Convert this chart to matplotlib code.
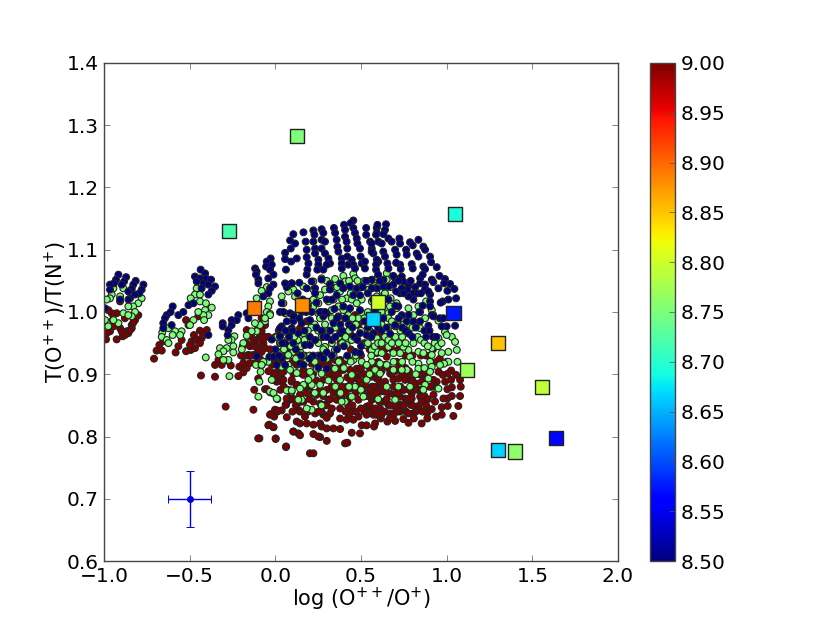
import numpy as np
import matplotlib
matplotlib.use('Agg')
import matplotlib.pyplot as plt

# model grid, three metallicities as (log O++/O+, T ratio)
grid_z = {'blue': 8.5, 'green': 8.75, 'red': 9.0}

blue_pts = [
    (-.916,1.060),(-.93,1.052),(-.942,1.046),(-.965,1.044),(-.871,1.056),(-.883,1.049),(-.897,1.044),(-.815,1.050),
    (-.829,1.044),(-.838,1.037),(-.858,1.033),(-.77,1.044),(-.78,1.036),(-.794,1.03),(-.819,1.028),(-.848,1.022),
    (-.858,1.02),(-.965,1.036),(-.994,1.006),(-.906,1.02),
    (-.436,1.068),(-.41,1.062),(-.469,1.057),(-.44,1.054),(-.404,1.054),(-.375,1.052),(-.459,1.049),(-.42,1.046),
    (-.352,1.041),(-.391,1.044),(-.371,1.034),(-.391,1.028),(-.43,1.038),(-.478,1.014),(-.507,1.011),(-.537,1.0),
    (-.566,.995),(-.599,1.009),(-.611,1.0),(-.634,.995),(-.644,.99),(-.605,.979),(-.654,.982),(-.654,.974),(-.391,.963),
    (-.027,1.086),(-.05,1.081),(-.021,1.076),(-.054,1.073),(-.031,1.068),(-.011,1.06),(-.041,1.054),(-.118,1.07),
    (-.109,1.065),(-.113,1.06),(-.099,1.052),(-.099,1.046),(-.011,1.044),(-.031,1.038),(-.041,1.03),(-.07,1.025),
    (-.216,.995),(-.225,.987),(-.255,.987),(-.307,.982),(-.307,.977),(-.255,.979),(-.274,.971),(-.278,.963),
    (-.167,.998),(-.157,.99),(-.021,.956),(-.109,.929),
    (.105,1.125),(.164,1.128),(.086,1.115),(.115,1.11),(.177,1.113),(.09,1.102),(.057,1.095),(.057,1.085),(.092,1.081),
    (.125,1.086),(.062,1.068),(.183,1.1),(.183,1.088),(.193,1.078),(.187,1.068),(.183,1.06),(.222,1.131),(.228,1.124),
    (.222,1.113),(.232,1.102),(.232,1.094),(.251,1.084),(.251,1.076),(.245,1.068),(.27,1.133),(.28,1.127),(.27,1.116),
    (.29,1.113),(.27,1.102),(.29,1.094),(.31,1.086),(.319,1.078),(.3,1.076),(.28,1.068),(.342,1.135),(.349,1.127),
    (.358,1.116),(.362,1.105),(.368,1.097),(.388,1.086),(.388,1.078),(.388,1.07),(.401,1.14),(.407,1.132),(.407,1.121),
    (.416,1.113),(.42,1.102),(.42,1.089),(.446,1.084),(.455,1.076),(.426,1.076),(.465,1.07),(.455,1.147),(.44,1.143),
    (.455,1.135),(.465,1.127),(.475,1.118),(.479,1.11),(.494,1.102),(.498,1.089),(.504,1.078),(.523,1.07),(.53,1.135),
    (.53,1.124),(.553,1.113),(.563,1.102),(.572,1.094),(.592,1.135),(.592,1.127),(.601,1.113),(.601,1.081),(.523,1.081),
    (.596,1.14),(.646,1.141),(.64,1.132),(.588,1.124),(.631,1.125),(.66,1.118),(.679,1.113),(.724,1.118),(.728,1.11),
    (.621,1.11),(.786,1.112),(.835,1.116),(.802,1.107),(.864,1.105),(.874,1.1),(.763,1.1),(.767,1.092),(.63,1.097),
    (.699,1.1),(.708,1.092),(.64,1.089),(.825,1.094),(.835,1.089),(.903,1.089),(.909,1.08),(.942,1.072),(.796,1.077),
    (.802,1.07),(.864,1.073),(.874,1.069),(.728,1.076),(.732,1.069),(.654,1.078),(.705,1.079),(.592,1.084),(.588,1.076),
    (.588,1.068),(.66,1.07),(.562,1.11),(.562,1.097),
    (.958,1.058),(.99,1.053),(1.02,1.045),(1.045,1.037),(1.055,1.022),(1.01,1.02),(1.004,1.034),(.977,1.017),(.965,1.015),
    (.985,1.046),(.952,1.038),(.913,1.052),(.922,1.048),(.845,1.054),(.845,1.046),(.874,1.044),(.874,1.037),(.903,1.028),
    (.903,1.017),(.903,1.009),(.893,1.033),(.816,1.04),(.806,1.03),(.806,1.02),(.777,1.042),(.771,1.036),(.777,1.025),
    (.738,1.057),(.747,1.049),(.738,1.038),(.728,1.03),(.699,1.054),(.689,1.058),(.689,1.044),(.705,1.033),(.631,1.052),
    (.563,1.052),(.592,1.038),(.563,1.038),(.66,1.041),(.631,1.041),(.913,.995),(.845,.985),(.806,.985),(.777,.995),
    (.767,.985),(.922,.993),(1.049,.978),(1.0,.977),(.971,.977),(.893,.978),(.738,.995),(.718,1.009),(.699,.979),
    (.095,1.046),(.14,1.047),(.212,1.049),(.27,1.052),(.066,1.04),(.183,1.038),(.232,1.038),(.232,1.03),(.319,1.044),
    (.319,1.036),(.378,1.046),(.358,1.027),(.397,1.038),(.436,1.041),(.475,1.038),(.494,1.027),(.455,1.027),(.027,1.0),
    (.037,1.014),(.086,.998),(.105,.995),(.212,1.0),(.28,.993),(.3,.998),(.397,1.009),(.436,1.006),(.494,1.003),(.368,.993),
    (.037,.977),(.105,.985),(.154,.982),(.202,.987),(.339,.982),
    (-.021,.956),(-.035,.928),(-.011,.928),(.008,.915),(.027,.961),(.057,.95),(.057,.915),(.105,.95),(.134,.966),(.144,.917),
    (.173,.947),(.202,.96),(.232,.955),(.202,.947),(.28,.96),(.3,.909),(.251,.911),(.329,.955),(.378,.966),(.465,.936),
    (.494,.934),(.494,.966),(.533,.963),(.572,.966),(.037,.926),(.164,.915),
    (.027,.974),(.067,.985),(.105,.993),(.096,.974),(.027,.961),(.047,1.0),(.057,1.046),(.096,1.046),
    (.13,1.03),(.16,1.02),(.19,1.01),(.155,1.0),(.18,1.0),(.24,1.015),(.26,1.0),(.29,1.0),(.3,1.02),(.33,1.02),(.345,1.005),
    (.36,.99),(.38,.98),(.39,.97),(.41,.99),(.43,.98),(.45,.975),(.46,.96),(.48,.955),(.5,.945),(.52,.985),(.54,.975),(.56,.96),
    (.58,.985),(.6,.975),(.62,.97),(.63,.99),(.65,.975),(.67,.965),(.68,1.0),(.7,1.01),(.72,.99),(.74,.975),(.76,.97),(.78,.965),
    (.8,.96),(.82,.975),(.84,1.0),(.86,1.01),(.87,.97),(.88,.96),(.9,.97),(.92,.96),(.94,.96),(.96,.99),(.98,.99),(.62,1.02),
    (.64,1.02),(.66,1.02),(.72,1.05),(.75,1.03),(.79,1.05),(.83,1.03),(.85,1.03),(.86,1.06),(.6,1.06),(.61,1.05),(.53,1.05),
    (.51,1.04),(.54,1.03),(.57,1.02),(.58,1.0),(.24,.975),(.27,.97),(.3,.96),(.32,.97),(.35,.96),(.22,.93),(.2,.925),(.26,.93),
    (.28,.925),(.3,.935),(.33,.93),(.36,.94),(.4,.945),(.42,.93),(.12,.94),(.15,.93),(.08,.96),(.1,.97),(.14,.99),(.17,.97),
    (.06,.97),(.04,.95),(0.0,.94),(.02,.93),
]

green_pts = [
    (-.955,1.028),(-.965,1.022),(-.984,1.02),(-.887,1.038),(-.945,1.038),(-.906,1.025),(-.78,1.022),(-.80,1.014),(-.83,1.009),
    (-.858,1.009),(-.887,.998),(-.916,.982),(-.975,.977),(-.945,.987),(-.994,.987),(-.819,1.0),(-.838,.993),(-.858,.995),
    (-.459,1.038),(-.469,1.028),(-.494,1.022),(-.44,1.028),(-.44,1.017),(-.405,1.014),(-.371,1.007),(-.41,1.003),(-.391,.995),
    (-.42,.995),(-.416,.987),(-.45,1.0),(-.478,.987),(-.498,.979),(-.547,.969),(-.585,.969),(-.624,.974),(-.66,.967),(-.663,.96),
    (-.634,.955),(-.556,.963),(-.599,.963),(-.624,.95),(-.406,.927),
    (-.05,1.04),(-.08,1.034),(-.109,1.022),(-.031,1.017),(-.041,1.009),(-.05,1.0),(-.031,.997),(-.06,.985),(-.09,.979),(-.119,.982),
    (-.109,.969),(-.138,.969),(-.167,.962),(-.187,.95),(-.196,.94),(-.239,.961),(-.255,.955),(-.274,.955),(-.245,.945),(-.284,.942),
    (-.323,.942),(-.303,.937),(-.245,.935),(-.332,.932),(-.268,.897),(-.274,.923),(-.303,.923),(-.113,.915),(-.08,.915),(-.086,.904),
    (-.093,.888),(-.099,.864),(.008,.937),(-.041,.92),
    (.349,1.053),(.397,1.058),(.407,1.049),(.455,1.061),(.465,1.054),(.27,1.054),(.222,1.049),(.164,1.041),(.105,1.036),(.076,1.033),
    (.037,1.025),(.047,1.014),(.115,1.025),(.057,.998),(.125,.995),(.222,1.036),(.29,1.036),(.261,1.027),(.222,1.02),(.31,1.017),
    (.349,1.038),(.378,1.033),(.416,1.022),(.446,1.02),(.465,1.036),(.504,1.02),(.543,1.036),(.592,1.053),(.601,1.041),(.592,1.025),
    (.563,1.017),(.222,1.009),(.251,1.014),(.329,1.003),(.251,.998),(.27,1.0),(.368,1.009),(.397,1.003),(.475,1.014),(.504,.998),
    (.261,.99),(.329,.99),(.407,.99),(.426,.995),(.485,.99),(-.031,.995),(-.06,.99),
    (.65,1.062),(.592,1.052),(.65,1.052),(.627,1.033),(.673,1.022),(.708,1.014),(.708,1.006),(.777,1.006),(.835,1.009),(.845,1.0),
    (.88,1.017),(.913,1.003),(.922,.995),(.874,.99),(.952,.986),(.806,.995),(.669,1.009),(.66,.998),(.66,.99),(.747,.987),(.699,.977),
    (.816,.982),(.845,.974),
    (-.07,.92),(-.08,.915),(-.011,.869),(-.031,.871),(.012,.86),(.076,.875),(.095,.872),(.154,.859),(.212,.843),(.047,.968),(.076,.931),
    (.076,.915),(.105,.936),(.144,.936),(.164,.947),(.164,.966),(.202,.952),(.251,.95),(.29,.944),(.348,.939),(.416,.947),(.446,.955),
    (.524,.947),(.553,.96),(.212,.896),(.212,.883),(.261,.883),(.193,.891),(.164,.883),(.144,.877),(.202,.904),(.241,.909),(.348,.909),
    (.378,.891),(.416,.926),(.455,.923),(.504,.92),(.563,.92),(.533,.915),(.582,.907),(.592,.936),(.465,.88),(.407,.856),(.387,.856),
    (.514,.864),(.446,.864),(.183,.845),(.446,.899),(.27,.901),(.533,.891),
    (1.03,.96),(1.049,.952),(.99,.968),(1.0,.963),(.952,.958),(.913,.942),(.913,.931),(.903,.92),(.913,.912),(1.059,.939),(1.063,.92),
    (1.01,.936),(.971,.934),(1.01,.92),(.985,.917),(.961,.915),(.835,.936),(.864,.934),(.835,.917),(.835,.909),(.903,.904),(.893,.893),
    (.806,.95),(.777,.939),(.786,.928),(.747,.944),(.728,.934),(.689,.934),(.66,.944),(.611,.917),(.621,.934),(.592,.958),(.563,.939),
    (.767,.907),(.738,.907),(.689,.907),(.65,.915),(.611,.901),(.718,.88),(.699,.859),(.874,.883),(.864,.875),(.952,.877),(.786,.88),
    (.008,.929),(.037,.912),(.076,.931),(.125,.939),(-.031,.872),(-.011,.87),(.008,.861),(.067,.874),(.096,.874),(.134,.859),(-.021,.891),
    (.086,.907),(.125,.902),
    (.3,1.05),(.32,1.045),(.34,1.02),(.36,1.04),(.39,1.02),(.43,1.05),(.44,1.03),(.48,1.05),(.5,1.04),(.52,1.05),(.55,1.05),(.57,1.04),
    (.6,1.02),(.62,1.0),(.64,1.03),(.67,1.04),(.58,1.01),(.54,1.0),(.52,.99),(.47,.98),(.45,.99),(.43,.97),(.41,.96),(.39,.95),(.37,.96),
    (.35,.975),(.33,.95),(.31,.97),(.29,.98),(.27,.96),(.25,.97),(.23,.98),(.21,.975),(.19,.97),(.17,.955),(.15,.945),(.13,.955),(.11,.96),
    (.09,.945),(.07,.955),(.05,.94),(.03,.95),(.01,.96),(.54,.95),(.56,.93),(.58,.945),(.6,.95),(.62,.95),(.64,.96),(.66,.955),(.68,.95),
    (.7,.96),(.72,.95),(.74,.96),(.76,.95),(.78,.98),(.8,.975),(.83,.96),(.85,.955),(.87,.95),(.89,.945),(.93,.95),(.95,.945),(.97,.95),
    (.71,.985),(.73,.97),(.75,.98),(.68,.985),(.66,.975),(.62,.98),(.6,.99),(.55,.97),(.5,.97),(.47,.93),(.44,.92),(.4,.91),(.37,.92),
    (.34,.93),(.3,.925),(.28,.94),(.25,.93),(.23,.92),(.2,.93),(.18,.92),(.16,.93),(.14,.92),(.12,.925),(.28,.87),(.31,.89),(.35,.88),
    (.38,.87),(.43,.88),(.5,.875),(.55,.9),(.6,.86),(.65,.88),(.69,.92),(.74,.92),(.8,.92),(.82,.9),(.87,.91),(.27,.85),(.23,.87),
]

red_pts = [
    (-.80,.995),(-.819,.987),(-.838,.979),(-.858,.966),(-.891,.961),(-.926,.956),(-.988,.956),(-.965,.969),(-.945,.977),(-.906,.974),
    (-.878,.99),(-.868,.969),(-.897,.969),(-.926,.998),(-.955,.998),(-.975,1.003),(-.906,1.017),(-.838,.974),(-.984,.966),(-.949,.987),
    (-.829,.983),(-.809,.993),(-.848,.971),(-.878,.963),
    (-.654,.953),(-.677,.947),(-.693,.938),(-.663,.938),(-.708,.925),(-.582,.935),(-.566,.945),(-.547,.955),(-.521,.937),(-.494,.939),
    (-.469,.942),(-.488,.953),(-.459,.955),(-.43,.958),(-.40,.971),(-.44,.970),(-.475,.963),(-.521,.987),(-.507,.979),(-.45,.993),
    (-.42,.963),(-.44,.95),(-.498,.947),
    (-.352,.915),(-.313,.915),(-.26,.914),(-.332,.923),(-.284,.922),(-.21,.912),(-.187,.918),(-.167,.91),(-.187,.903),(-.216,.897),
    (-.352,.896),(-.434,.898),(-.187,.929),(-.157,.931),(-.128,.931),(-.099,.937),(-.07,.95),(-.089,.961),(-.06,.979),(-.08,.99),
    (-.167,.971),(-.109,.955),(-.148,.945),(-.118,.918),(-.148,.918),(-.1,.893),(-.123,.875),(-.29,.848),(-.128,.843),(-.093,.797),
    (-.1,.797),(-.027,.836),(.008,.842),(.037,.842),(-.007,.832),(-.035,.819),(-.011,.815),(.067,.831),(.002,.797),(.063,.784),
    (.105,.808),(.134,.805),(.125,.824),(.063,.851),(.138,.842),(-.06,.876),(.083,.861),
    (1.078,.891),(1.082,.88),(1.078,.865),(1.068,.849),(1.039,.833),(1.055,.899),(1.026,.906),(1.026,.891),(1.03,.879),(1.006,.901),
    (1.004,.876),(1.03,.865),(1.004,.861),(.981,.861),(1.006,.849),(.971,.847),(.971,.835),(.938,.832),(.952,.904),(.977,.899),
    (.942,.888),(.991,.888),(.923,.891),(.926,.88),(.923,.867),(.932,.856),(.913,.844),(.887,.838),(.887,.829),(.854,.821),(.845,.864),
    (.854,.856),(.835,.849),(.841,.843),(.806,.837),(.809,.829),(.777,.822),(.747,.828),(.763,.84),(.79,.851),(.796,.869),(.786,.891),
    (.757,.891),(.747,.875),(.757,.861),(.728,.851),(.728,.84),(.699,.825),(.654,.824),(.615,.829),(.576,.816),(.64,.84),(.674,.837),
    (.699,.848),(.66,.851),(.611,.845),(.635,.856),(.607,.856),(.563,.843),(.563,.859),(.67,.869),(.64,.872),(.611,.872),(.563,.88),
    (.592,.88),(.64,.888),(.689,.891),(.718,.893),(.747,.901),(.67,.901),(.777,.899),(.592,.893),(.563,.896),(.601,.966),(.63,.955),
    (.65,.928),(.708,.92),(.592,.934),(.592,.909),(.874,.901),(.854,.888),(.796,.861),(.699,.867),(.728,.864),(.777,.837),
    (-.08,.945),(-.05,.876),(-.002,.899),(.047,.904),(-.011,.901),(-.011,.891),(.027,.901),(.008,.888),(.037,.888),(.105,.901),(.154,.901),
    (.144,.867),(.183,.88),(.241,.867),(.261,.853),(.164,.856),(.144,.84),(.173,.832),(.144,.821),(.183,.821),(.222,.819),(.261,.821),
    (.27,.816),(.3,.813),(.339,.813),(.378,.812),(.222,.804),(.261,.799),(.251,.8),(.3,.793),(.105,.808),(.144,.802),(.062,.783),
    (.002,.796),(-.011,.815),(-.041,.818),(-.002,.843),(.012,.84),(-.031,.835),(.06,.851),(.086,.859),(.202,.773),(.222,.773),(.407,.789),
    (.42,.79),(.446,.806),(.494,.805),(.378,.829),(.416,.827),(.455,.827),(.504,.818),(.533,.818),(.582,.821),(.572,.835),(.533,.835),
    (.485,.832),(.446,.84),(.533,.848),(.582,.845),(.592,.861),(.553,.864),(.485,.859),(.426,.848),(.378,.845),(.319,.837),(.28,.835),
    (.232,.837),(.358,.859),(.31,.859),(.29,.851),(.222,.856),(.368,.875),(.329,.88),(.3,.875),(.416,.88),(.436,.877),(.485,.88),(.524,.883),
    (.572,.88),(.601,.893),(.563,.901),(.504,.901),(.475,.893),(.436,.907),(.397,.907),(.368,.901),(.329,.896),(.31,.901),(.28,.891),
    (.378,.923),(.348,.923),(.31,.92),(.29,.915),(.212,.917),(.125,.915),(.164,.907),(-.08,.936),(-.06,.942),(-.089,.955),(.008,.896),
    (.095,.888),(.125,.883),(.164,.899),(.066,.861),(.475,.909),(.465,.995),(.436,.977),(.485,.979),(.183,.985),(.144,.974),(.397,.968),(.436,.966),
    (-.012,.902),(.037,.902),(.096,.891),(.125,.883),(-.012,.891),(.047,.891),(.066,.912),(.096,.939),(.125,.955),(.027,.95),(.047,.929),(.125,.918),
    (.2,.88),(.22,.87),(.24,.89),(.26,.875),(.28,.865),(.3,.85),(.32,.86),(.34,.87),(.36,.89),(.39,.88),(.41,.87),(.43,.86),(.45,.85),(.47,.87),
    (.49,.89),(.51,.875),(.53,.865),(.55,.875),(.57,.87),(.59,.87),(.61,.885),(.63,.88),(.65,.86),(.67,.85),(.69,.88),(.71,.87),(.73,.88),
    (.75,.875),(.77,.86),(.78,.875),(.81,.88),(.83,.875),(.85,.875),(.87,.865),(.89,.86),(.91,.88),(.88,.85),(.86,.84),(.82,.84),(.8,.85),
    (.75,.85),(.71,.84),(.69,.835),(.67,.83),(.62,.835),(.59,.835),(.55,.85),(.52,.84),(.5,.845),(.47,.84),(.43,.835),(.41,.84),(.39,.86),
    (.37,.87),(.33,.845),(.3,.83),(.27,.84),(.25,.84),(.19,.84),(.2,.86),(.18,.87),(.15,.88),(.2,.9),(.22,.9),(.24,.91),(.26,.92),(.33,.91),
    (.35,.9),(.38,.91),(.4,.92),(.42,.895),(.44,.89),(.46,.9),(.5,.91),(.52,.9),(.55,.91),(.57,.915),(.6,.92),(.62,.905),(.64,.915),(.66,.91),
    (.68,.9),(.7,.905),(.72,.91),(.74,.9),(.76,.91),(.78,.905),(.8,.89),(.82,.885),(.84,.9),(.86,.9),(.88,.895),(.9,.88),(.94,.92),(.96,.925),
    (1.0,.92),(.92,.94),(.9,.93),(.88,.93),(.85,.93),(.8,.93),(.76,.93),(.72,.94),(.68,.94),(.64,.94),(.6,.94),(.62,.96),(.5,.93),(.52,.95),
    (.55,.94),(.44,.94),(.38,.95),(.2,.95),(.17,.93),(.13,.93),(.1,.92),(.07,.93),(.04,.92),(.02,.91),(0.0,.925),(-.02,.915),(-.04,.905),
    (-.06,.92),(-.1,.94),(-.13,.95),(-.11,.97),(-.08,.97),(-.04,.96),(-.14,.96),(-.17,.95),(-.19,.945),(-.2,.93),(-.165,.93),(-.14,.93),
    (-.12,.945),(-.09,.925),(-.06,.96),(-.03,.94),(0.0,.96),(.02,.97),(.06,.94),(.03,.875),(.05,.88),(.09,.87),(.11,.86),(.12,.85),(.1,.84),(.14,.855),
]

# observed HII regions
obs_x = [-.27, .127, 1.05, -.124, .156, .6, .57, 1.04, 1.3, 1.12, 1.557, 1.3, 1.4, 1.638]
obs_y = [1.13, 1.283, 1.157, 1.006, 1.011, 1.016, .989, .998, .95, .907, .88, .778, .776, .798]
obs_z = [8.72, 8.75, 8.69, 8.89, 8.88, 8.80, 8.665, 8.575, 8.85, 8.77, 8.79, 8.665, 8.76, 8.565]

err_x, err_y = -0.5, 0.7
err_dx, err_dy = 0.127, 0.0447

fig = plt.figure(figsize=(8.3, 6.23), dpi=100)
ax = fig.add_axes([0.1253, 0.0995, 0.6193, 0.7994])

# red first: the green and blue tracks sit on top of it in the middle of the cloud
for pts, z in [(red_pts, grid_z['red']), (green_pts, grid_z['green']), (blue_pts, grid_z['blue'])]:
    xs, ys = np.array(pts).T
    ax.scatter(xs, ys, c=[z] * len(xs), s=24, cmap='jet', vmin=8.5, vmax=9.0,
               edgecolors='#222222', linewidths=0.8, zorder=2)

sq = ax.scatter(obs_x, obs_y, c=obs_z, s=105, marker='s', cmap='jet', vmin=8.5, vmax=9.0,
                edgecolors='#222222', linewidths=1.0, zorder=3)

ax.errorbar(err_x, err_y, xerr=err_dx, yerr=err_dy, fmt='o', color='#0000e0', ms=4,
            elinewidth=1, capsize=3, capthick=0.7, zorder=3)

ax.set_xlim(-1.0, 2.0)
ax.set_ylim(0.6, 1.4)
ax.set_xticks([-1.0, -0.5, 0.0, 0.5, 1.0, 1.5, 2.0])
ax.set_yticks([0.6, 0.7, 0.8, 0.9, 1.0, 1.1, 1.2, 1.3, 1.4])
ax.tick_params(direction='in', top=True, right=True, length=4, width=0.5,
               labelsize=14.5, color='#555555', pad=4)
for s in ax.spines.values():
    s.set_linewidth(1.0)
    s.set_color('#444444')
ax.set_xlabel('log (O$^{++}$/O$^{+}$)', fontsize=15, labelpad=0)
ax.set_ylabel('T(O$^{++}$)/T(N$^{+}$)', fontsize=15, labelpad=-2)

cax = fig.add_axes([0.7835, 0.0995, 0.0295, 0.7994])
cb = fig.colorbar(sq, cax=cax)
cb.set_ticks([8.5, 8.55, 8.6, 8.65, 8.7, 8.75, 8.8, 8.85, 8.9, 8.95, 9.0])
cb.ax.set_yticklabels(['%.2f' % v for v in cb.get_ticks()])
cb.ax.tick_params(direction='in', length=4, width=0.5, labelsize=14.5, color='#555555', pad=4)
cb.outline.set_linewidth(1.0)
cb.outline.set_edgecolor('#444444')

fig.savefig('out.png', dpi=100)
